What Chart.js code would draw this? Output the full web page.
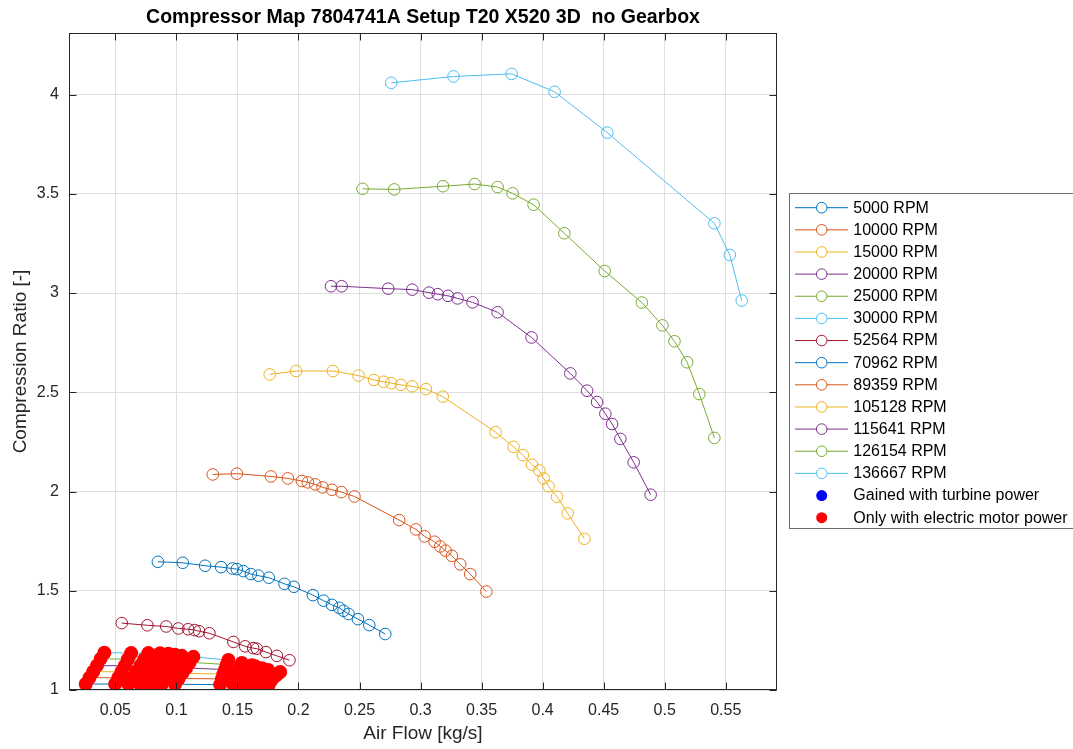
<!DOCTYPE html>
<html><head><meta charset="utf-8">
<script src="https://cdn.jsdelivr.net/npm/chart.js@4.4.1/dist/chart.umd.min.js"></script>
<style>html,body{margin:0;padding:0;background:#fff}#wrap{width:1073px;height:749px;position:relative}</style>
</head><body><div id="wrap"><canvas id="c"></canvas></div>
<script>
const chartTitle = 'Compressor Map 7804741A Setup T20 X520 3D  no Gearbox';
const xAxisTitle = 'Air Flow [kg/s]';
const yAxisTitle = 'Compression Ratio [-]';
const xTicks = [0.05,0.1,0.15,0.2,0.25,0.3,0.35,0.4,0.45,0.5,0.55];
const yTicks = [1,1.5,2,2.5,3,3.5,4];
const xRange = [0.012, 0.592];
const yRange = [1, 4.31];

const seriesLabels = ['5000 RPM','10000 RPM','15000 RPM','20000 RPM','25000 RPM','30000 RPM',
  '52564 RPM','70962 RPM','89359 RPM','105128 RPM','115641 RPM','126154 RPM','136667 RPM'];
const turbineLabel = 'Gained with turbine power';
const electricLabel = 'Only with electric motor power';

// low speed lines (all points only with electric motor power)
const rpm5000X = [0.0257,0.0498,0.0607,0.0702,0.0770,0.0825,0.0880,0.0989,0.1358,0.1467,0.1536,0.1571,0.1618,0.1670,0.1754];
const rpm5000Y = [1.030,1.030,1.030,1.030,1.030,1.029,1.029,1.029,1.027,1.026,1.025,1.025,1.024,1.023,1.023];
const rpm10000X = [0.0288,0.0524,0.0640,0.0735,0.0803,0.0858,0.0913,0.1019,0.1372,0.1481,0.1552,0.1586,0.1634,0.1686,0.1773];
const rpm10000Y = [1.062,1.062,1.062,1.061,1.061,1.060,1.059,1.058,1.056,1.053,1.051,1.050,1.049,1.047,1.045];
const rpm15000X = [0.0318,0.0550,0.0672,0.0768,0.0836,0.0891,0.0946,0.1049,0.1385,0.1495,0.1569,0.1600,0.1651,0.1703,0.1792];
const rpm15000Y = [1.092,1.092,1.092,1.091,1.090,1.089,1.087,1.085,1.080,1.075,1.072,1.070,1.067,1.064,1.061];
const rpm20000X = [0.0349,0.0577,0.0705,0.0800,0.0868,0.0923,0.0978,0.1079,0.1399,0.1508,0.1585,0.1616,0.1667,0.1719,0.1812];
const rpm20000Y = [1.123,1.122,1.122,1.121,1.119,1.116,1.114,1.111,1.103,1.095,1.089,1.086,1.081,1.076,1.071];
const rpm25000X = [0.0379,0.0603,0.0737,0.0833,0.0901,0.0956,0.1011,0.1109,0.1412,0.1522,0.1602,0.1630,0.1684,0.1736,0.1831];
const rpm25000Y = [1.157,1.155,1.155,1.154,1.151,1.148,1.144,1.140,1.128,1.116,1.107,1.104,1.096,1.088,1.081];
const rpm30000X = [0.0410,0.0629,0.0770,0.0866,0.0934,0.0989,0.1044,0.1139,0.1426,0.1536,0.1618,0.1645,0.1700,0.1752,0.1850];
const rpm30000Y = [1.188,1.186,1.186,1.185,1.182,1.177,1.172,1.167,1.151,1.136,1.125,1.120,1.110,1.101,1.091];

const rpm52564X = [0.0552,0.0762,0.0916,0.1016,0.1096,0.1149,0.1186,0.1270,0.1467,0.1563,0.1629,0.1659,0.1733,0.1823,0.1926];
const rpm52564Y = [1.337,1.326,1.320,1.310,1.306,1.302,1.296,1.286,1.242,1.220,1.211,1.208,1.191,1.172,1.150];
const rpm70962X = [0.0848,0.1052,0.1235,0.1366,0.1459,0.1495,0.1549,0.1610,0.1672,0.1757,0.1885,0.1962,0.2118,0.2205,0.2274,0.2334,0.2369,0.2410,0.2487,0.2580,0.2711];
const rpm70962Y = [1.646,1.641,1.626,1.619,1.612,1.609,1.599,1.584,1.576,1.566,1.535,1.520,1.478,1.450,1.429,1.414,1.399,1.383,1.357,1.327,1.282];
const rpm89359X = [0.1298,0.1495,0.1774,0.1913,0.2028,0.2077,0.2137,0.2197,0.2274,0.2352,0.2459,0.2825,0.2962,0.3033,0.3115,0.3161,0.3205,0.3257,0.3325,0.3407,0.3539];
const rpm89359Y = [2.086,2.090,2.076,2.066,2.053,2.046,2.036,2.021,2.009,1.997,1.975,1.856,1.809,1.774,1.747,1.723,1.702,1.676,1.633,1.584,1.496];
const rpm105128X = [0.1764,0.1981,0.2282,0.2492,0.2618,0.2697,0.2760,0.2839,0.2932,0.3044,0.3182,0.3615,0.3762,0.3838,0.3913,0.3973,0.4008,0.4049,0.4118,0.4205,0.4342];
const rpm105128Y = [2.590,2.607,2.607,2.584,2.562,2.553,2.546,2.537,2.530,2.516,2.478,2.299,2.225,2.183,2.135,2.106,2.066,2.026,1.974,1.890,1.762];
const rpm115641X = [0.2266,0.2354,0.2735,0.2932,0.3069,0.3141,0.3225,0.3303,0.3426,0.3631,0.3909,0.4227,0.4364,0.4446,0.4514,0.4569,0.4637,0.4746,0.4885];
const rpm115641Y = [3.034,3.034,3.022,3.017,3.002,2.994,2.986,2.973,2.953,2.903,2.776,2.595,2.508,2.451,2.392,2.340,2.265,2.147,1.984];
const rpm126154X = [0.2525,0.2784,0.3184,0.3443,0.3631,0.3754,0.3926,0.4178,0.4508,0.4813,0.4981,0.5080,0.5184,0.5284,0.5407];
const rpm126154Y = [3.525,3.522,3.538,3.549,3.534,3.502,3.445,3.301,3.111,2.952,2.837,2.757,2.651,2.491,2.270];
const rpm136667X = [0.2760,0.3270,0.3746,0.4098,0.4530,0.5407,0.5533,0.5631];
const rpm136667Y = [4.059,4.091,4.104,4.014,3.808,3.351,3.192,2.962];

const seriesX = [rpm5000X,rpm10000X,rpm15000X,rpm20000X,rpm25000X,rpm30000X,rpm52564X,rpm70962X,rpm89359X,rpm105128X,rpm115641X,rpm126154X,rpm136667X];
const seriesY = [rpm5000Y,rpm10000Y,rpm15000Y,rpm20000Y,rpm25000Y,rpm30000Y,rpm52564Y,rpm70962Y,rpm89359Y,rpm105128Y,rpm115641Y,rpm126154Y,rpm136667Y];
const electricOnlySeries = [0,1,2,3,4,5];

// styles (MATLAB default colour order)
const seriesColors = ['#0072BD','#D95319','#EDB120','#7E2F8E','#77AC30','#4DBEEE',
  '#A2142F','#0072BD','#D95319','#EDB120','#7E2F8E','#77AC30','#4DBEEE'];
const FONT = '"Liberation Sans", Arial, Helvetica, sans-serif';
const INK = '#262626';

const toPts = (xs, ys) => xs.map((x, i) => ({x: x, y: ys[i]}));
const datasets = seriesLabels.map((lab, i) => {
  const col = seriesColors[i];
  return {
    label: lab, data: toPts(seriesX[i], seriesY[i]), showLine: true,
    borderColor: col, backgroundColor: col, borderWidth: 1,
    pointStyle: 'circle', pointRadius: 5.8, pointHoverRadius: 5.8,
    pointBorderColor: col, pointBackgroundColor: 'rgba(0,0,0,0)', pointBorderWidth: 1,
    tension: 0, order: 0, _marker: 'open'
  };
});
let electricPts = [];
electricOnlySeries.forEach(i => { electricPts = electricPts.concat(toPts(seriesX[i], seriesY[i])); });
datasets.push({label: turbineLabel, data: [], showLine: false, pointRadius: 7,
  backgroundColor: '#0000FF', borderColor: '#0000FF', pointBorderWidth: 0, order: -1, _marker: 'dot'});
datasets.push({label: electricLabel, data: electricPts, showLine: false, pointRadius: 7, pointHoverRadius: 7,
  backgroundColor: '#FF0000', borderColor: '#FF0000', pointBackgroundColor: '#FF0000', pointBorderColor: '#FF0000',
  pointBorderWidth: 0, order: -2, _marker: 'dot'});

const framePlugin = {
  id: 'frame',
  afterDraw(chart) {
    const {ctx, chartArea: a, scales} = chart;
    ctx.save();
    ctx.strokeStyle = INK; ctx.lineWidth = 1;
    const L = Math.round(a.left) + 0.5, R = Math.round(a.right) - 0.5, T = Math.round(a.top) + 0.5, B = Math.round(a.bottom) - 0.5;
    ctx.strokeRect(L, T, R - L, B - T);
    const tl = 7;
    ctx.beginPath();
    scales.x.ticks.forEach(t => {
      const px = Math.round(scales.x.getPixelForValue(t.value)) + 0.5;
      ctx.moveTo(px, B); ctx.lineTo(px, B - tl);
      ctx.moveTo(px, T); ctx.lineTo(px, T + tl);
    });
    scales.y.ticks.forEach(t => {
      const py = Math.round(scales.y.getPixelForValue(t.value)) + 0.5;
      ctx.moveTo(L, py); ctx.lineTo(L + tl, py);
      ctx.moveTo(R, py); ctx.lineTo(R - tl, py);
    });
    ctx.stroke();
    ctx.fillStyle = '#000';
    ctx.font = 'bold 19.5px ' + FONT;
    ctx.textAlign = 'center'; ctx.textBaseline = 'middle';
    ctx.fillText(chartTitle, (a.left + a.right) / 2, 18);
    ctx.restore();
  }
};

const legendPlugin = {
  id: 'customLegend',
  afterDraw(chart) {
    const ctx = chart.ctx;
    ctx.save();
    const bx = 789.5, by = 193.5, bw = 300, bh = 335;
    ctx.fillStyle = '#fff'; ctx.fillRect(bx, by, bw, bh);
    ctx.strokeStyle = '#6e6e6e'; ctx.lineWidth = 1; ctx.strokeRect(bx, by, bw, bh);
    ctx.font = '16px ' + FONT;
    ctx.textBaseline = 'middle'; ctx.textAlign = 'left';
    chart.data.datasets.forEach((ds, i) => {
      const y = 207.7 + i * 22.14;
      if (ds._marker === 'open') {
        ctx.strokeStyle = ds.borderColor; ctx.lineWidth = 1;
        ctx.beginPath(); ctx.moveTo(795, y); ctx.lineTo(848, y); ctx.stroke();
        ctx.beginPath(); ctx.arc(821.7, y, 5.3, 0, Math.PI * 2);
        ctx.fillStyle = '#fff'; ctx.fill(); ctx.stroke();
      } else {
        ctx.fillStyle = ds.backgroundColor;
        ctx.beginPath(); ctx.arc(821.7, y, 5.5, 0, Math.PI * 2); ctx.fill();
      }
      ctx.fillStyle = '#000';
      ctx.fillText(ds.label, 853.3, y + 0.5);
    });
    ctx.restore();
  }
};

new Chart(document.getElementById('c'), {
  type: 'scatter',
  data: {datasets: datasets},
  plugins: [framePlugin, legendPlugin],
  options: {
    responsive: true, maintainAspectRatio: false, animation: false, devicePixelRatio: 1,
    layout: {padding: {top: 33, right: 296, bottom: 0, left: 0}},
    plugins: {legend: {display: false}, title: {display: false}, tooltip: {enabled: false}},
    elements: {line: {tension: 0}},
    scales: {
      x: {
        type: 'linear', min: xRange[0], max: xRange[1],
        afterBuildTicks: s => { s.ticks = xTicks.map(v => ({value: v})); },
        afterFit: s => { s.height = 59; },
        grid: {color: '#dfdfdf', lineWidth: 1, drawTicks: false},
        border: {display: false},
        ticks: {padding: 11, color: INK, font: {family: FONT, size: 16}, maxRotation: 0, autoSkip: false,
          callback: v => String(v)},
        title: {display: true, text: xAxisTitle, color: INK, font: {family: FONT, size: 19}, padding: {top: 0, bottom: 4}}
      },
      y: {
        type: 'linear', min: yRange[0], max: yRange[1],
        afterBuildTicks: s => { s.ticks = yTicks.map(v => ({value: v})); },
        afterFit: s => { s.width = 69; },
        grid: {color: '#dfdfdf', lineWidth: 1, drawTicks: false},
        border: {display: false},
        ticks: {padding: 10, color: INK, font: {family: FONT, size: 16}, autoSkip: false,
          callback: v => String(v)},
        title: {display: true, text: yAxisTitle, color: INK, font: {family: FONT, size: 19}, padding: {top: 9, bottom: 0}}
      }
    }
  }
});
</script></body></html>
